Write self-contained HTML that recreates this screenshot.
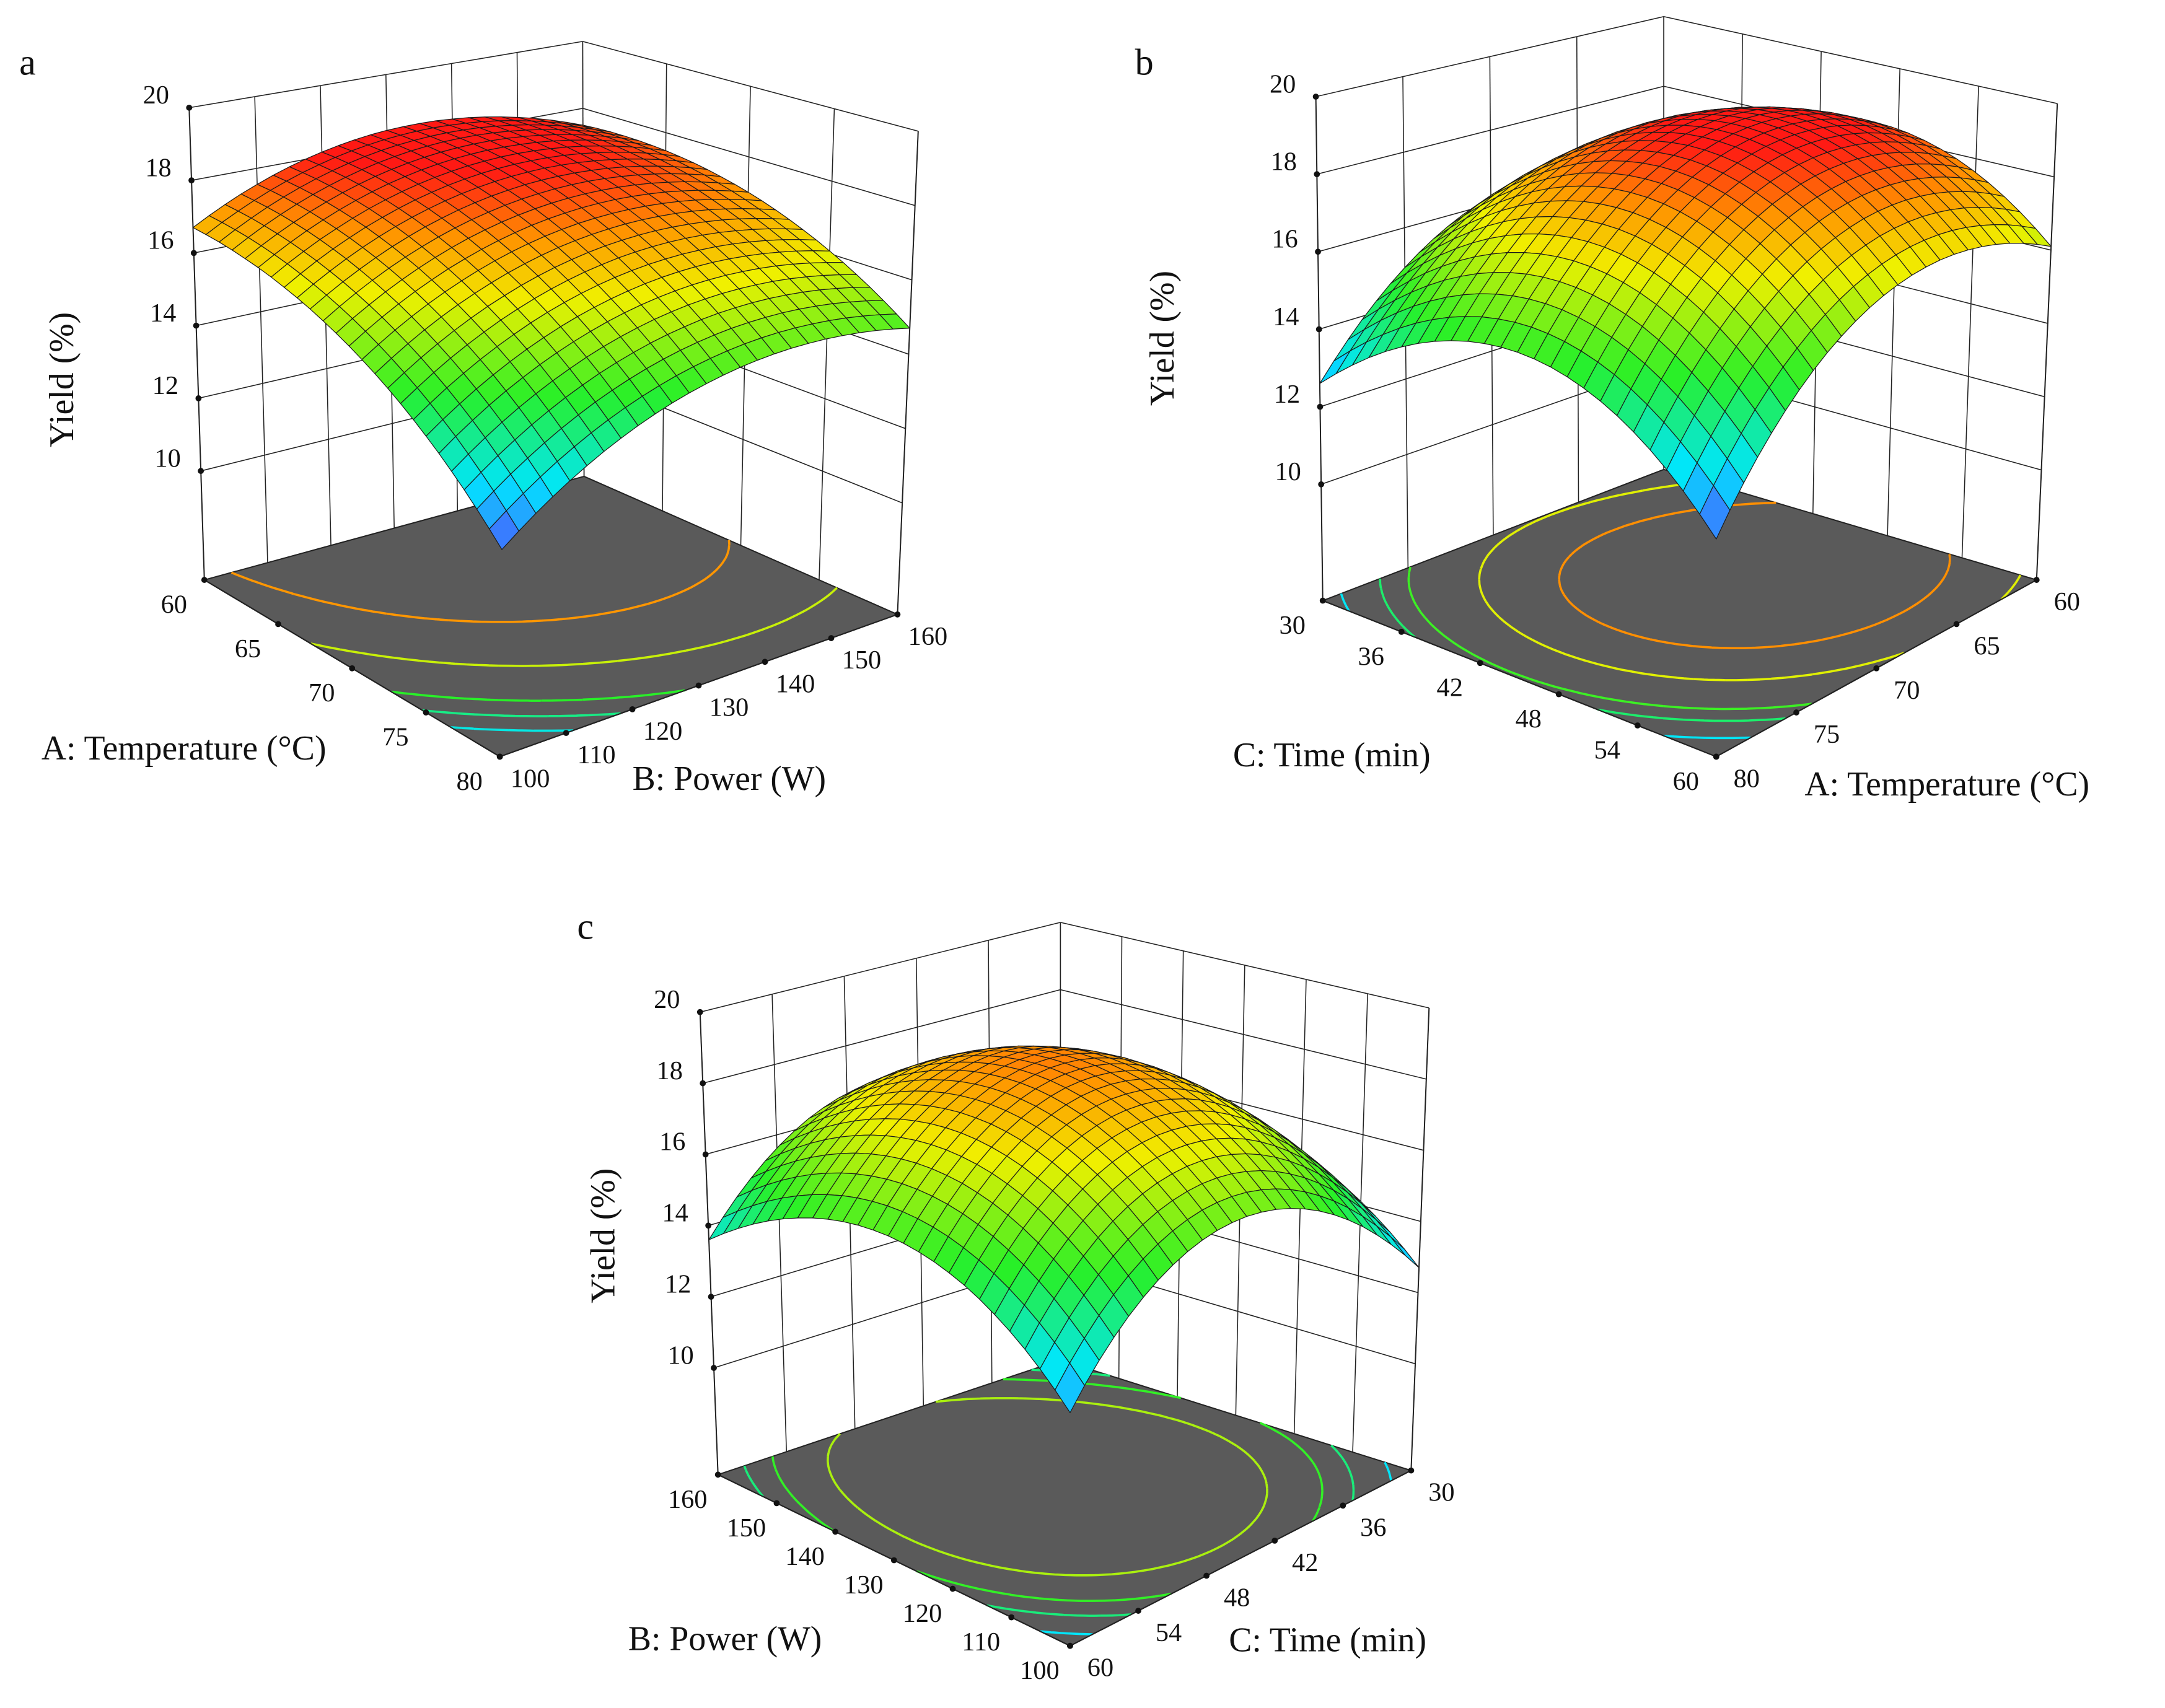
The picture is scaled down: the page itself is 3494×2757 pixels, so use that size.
<!DOCTYPE html>
<html><head><meta charset="utf-8"><style>
html,body{margin:0;padding:0;background:#fff}
svg{display:block}
text{font-family:"Liberation Serif",serif;fill:#111}
</style></head><body>
<svg id="fig" width="3494" height="2757" viewBox="0 0 1568 1237" preserveAspectRatio="none" xmlns="http://www.w3.org/2000/svg">
<rect width="1568" height="1237" fill="#fff"/>
<text x="14" y="54" font-size="27">a</text>
<text x="822" y="54" font-size="27">b</text>
<text x="418" y="680" font-size="27">c</text>
<g id="pa"></g>
<g id="pb"></g>
<g id="pc"></g>
<text transform="translate(53,275) rotate(-90)" text-anchor="middle" font-size="25">Yield (%)</text>
<text x="30" y="550" font-size="25">A: Temperature (°C)</text>
<text x="458" y="572" font-size="25">B: Power (W)</text>
<text transform="translate(850,245) rotate(-90)" text-anchor="middle" font-size="25">Yield (%)</text>
<text x="893" y="555" font-size="25">C: Time (min)</text>
<text x="1307" y="576" font-size="25">A: Temperature (°C)</text>
<text transform="translate(445,895) rotate(-90)" text-anchor="middle" font-size="25">Yield (%)</text>
<text x="455" y="1195" font-size="25">B: Power (W)</text>
<text x="890" y="1196" font-size="25">C: Time (min)</text>
</svg>
<script>
// model coefficients [b0, b1, b2, b11, b22, b12] in coded units
const coefA = [17.4, -1.9, 0.9, -0.9, -1.3, 0.5];
const coefB = [18.8, -1.75, 0.0, -2.2, -2.6, -0.35];
const coefC = [18.6, 0.45, 0.0, -2.3, -3.2, 0.05];
// colour ranges per panel [low, high]
const colorRangeA = [11.9, 18.4];
const colorRangeB = [11.9, 19.2];
const colorRangeC = [12.0, 20.0];
const zTicks = [10, 12, 14, 16, 18, 20];
const leftLabelsA = ["60","65","70","75","80"];
const rightLabelsA = ["100","110","120","130","140","150","160"];
const leftLabelsB = ["30","36","42","48","54","60"];
const rightLabelsB = ["80","75","70","65","60"];
const leftLabelsC = ["160","150","140","130","120","110","100"];
const rightLabelsC = ["60","54","48","42","36","30"];
const contourA = [13.2, 13.85, 14.5, 15.8, 17.1];
const contourB = [13.2, 14.3, 15.0, 16.5, 17.8];
const contourC = [13.4, 14.5, 15.3, 16.5];

const NS = "http://www.w3.org/2000/svg";
const stops = [[0,[80,80,255]],[0.17,[0,230,255]],[0.4,[40,240,40]],[0.65,[240,240,0]],[0.8,[255,150,0]],[0.95,[255,25,20]]];
function cmapF(f){
  if(f<=stops[0][0]) return stops[0][1];
  for(let i=1;i<stops.length;i++){ if(f<=stops[i][0]){ const a=stops[i-1],b=stops[i],r=(f-a[0])/(b[0]-a[0]); return a[1].map((v,k)=>Math.round(v+(b[1][k]-v)*r)); } }
  return stops[stops.length-1][1];
}
function rgb(c){return "rgb("+c.join(",")+")";}
function mk(parent,tag,attrs,name){const e=document.createElementNS(NS,tag);for(const k in attrs)e.setAttribute(k,attrs[k]);
  
  
  parent.appendChild(e);return e;}

function draw(P){
  const g=document.getElementById(P.id);
  const zmin=7,zmax=20;
  const cmap=z=>cmapF((z-P.cr[0])/(P.cr[1]-P.cr[0]));
  const bil=(C,s,t)=>[(1-s)*(1-t)*C.B[0]+s*(1-t)*C.L[0]+(1-s)*t*C.R[0]+s*t*C.F[0],(1-s)*(1-t)*C.B[1]+s*(1-t)*C.L[1]+(1-s)*t*C.R[1]+s*t*C.F[1]];
  const proj=(s,t,z)=>{const w=(z-zmin)/(zmax-zmin);const f=bil(P.bot,s,t),u=bil(P.top,s,t);return [f[0]+(u[0]-f[0])*w,f[1]+(u[1]-f[1])*w];};
  const Y=(s,t)=>{const x=P.map(s,t),c=P.coef;return c[0]+c[1]*x[0]+c[2]*x[1]+c[3]*x[0]*x[0]+c[4]*x[1]*x[1]+c[5]*x[0]*x[1];};
  const pl=(a,b,name,sw)=>mk(g,"line",{x1:a[0],y1:a[1],x2:b[0],y2:b[1],stroke:"#222","stroke-width":sw||0.9},name);
  for(let i=0;i<=P.nL;i++){const s=i/P.nL;pl(proj(s,0,zmin),proj(s,0,zmax),"left-wall-gridline",0.7);}
  for(let i=0;i<=P.nR;i++){const t=i/P.nR;pl(proj(0,t,zmin),proj(0,t,zmax),"right-wall-gridline",0.7);}
  zTicks.forEach(z=>{pl(proj(1,0,z),proj(0,0,z),"left-wall-z-gridline",0.7);pl(proj(0,0,z),proj(0,1,z),"right-wall-z-gridline",0.7);});
  const fl=[proj(0,0,zmin),proj(1,0,zmin),proj(1,1,zmin),proj(0,1,zmin)];
  mk(g,"polygon",{points:fl.map(p=>p.join(",")).join(" "),fill:"#5a5a5a",stroke:"#222","stroke-width":0.9},"floor");
  const N=60;
  P.levels.forEach(lv=>{
    let d="";
    const v=(i,j)=>Y(i/N,j/N)-lv;
    for(let i=0;i<N;i++)for(let j=0;j<N;j++){
      const c=[[i,j],[i+1,j],[i+1,j+1],[i,j+1]];const vals=c.map(p=>v(p[0],p[1]));const pts=[];
      for(let k=0;k<4;k++){const a=vals[k],b=vals[(k+1)%4];if((a<0)!==(b<0)){const f=a/(a-b);const p1=c[k],p2=c[(k+1)%4];pts.push([(p1[0]+(p2[0]-p1[0])*f)/N,(p1[1]+(p2[1]-p1[1])*f)/N]);}}
      for(let k=0;k+1<pts.length;k+=2){const a=proj(pts[k][0],pts[k][1],zmin),b=proj(pts[k+1][0],pts[k+1][1],zmin);d+="M"+a[0].toFixed(1)+","+a[1].toFixed(1)+"L"+b[0].toFixed(1)+","+b[1].toFixed(1);}
    }
    mk(g,"path",{d:d,stroke:rgb(cmap(lv)),"stroke-width":1.6,fill:"none"},"contour-line");
  });
  const M=24,quads=[];
  for(let i=0;i<M;i++)for(let j=0;j<M;j++){
    const s0=i/M,s1=(i+1)/M,t0=j/M,t1=(j+1)/M;
    const cs=[[s0,t0],[s1,t0],[s1,t1],[s0,t1]];
    const zs=cs.map(p=>Y(p[0],p[1]));
    const pts=cs.map((p,k)=>proj(p[0],p[1],zs[k]));
    const depth=bil(P.bot,(s0+s1)/2,(t0+t1)/2)[1];
    quads.push({pts,z:zs.reduce((a,b)=>a+b)/4,depth});
  }
  quads.sort((a,b)=>a.depth-b.depth);
  quads.forEach(q=>{mk(g,"polygon",{points:q.pts.map(p=>p[0].toFixed(1)+","+p[1].toFixed(1)).join(" "),fill:rgb(cmap(q.z)),stroke:"#1a1a1a","stroke-width":0.55,"stroke-linejoin":"round"},"surface-cell");});
  pl(proj(1,0,zmin),proj(1,0,zmax),"z-axis-line");
  pl(proj(0,1,zmin),proj(0,1,zmax),"right-vertical-edge");
  pl(proj(1,0,zmin),proj(1,1,zmin),"left-floor-axis");
  pl(proj(1,1,zmin),proj(0,1,zmin),"right-floor-axis");
  zTicks.forEach(z=>{const p=proj(1,0,z);mk(g,"circle",{cx:p[0],cy:p[1],r:2.2,fill:"#111"},"z-tick-dot");
    const t=mk(g,"text",{x:p[0]-24,y:p[1]-3,"text-anchor":"middle","font-size":19},"z-tick-label");t.textContent=z;});
  P.leftLabels.forEach((lab,i)=>{const t=i/(P.leftLabels.length-1);const p=proj(1,t,zmin);
    mk(g,"circle",{cx:p[0],cy:p[1],r:2.2,fill:"#111"},"left-axis-tick-dot");
    const e=mk(g,"text",{x:p[0]-22,y:p[1]+24,"text-anchor":"middle","font-size":19},"left-axis-tick-label");e.textContent=lab;});
  P.rightLabels.forEach((lab,i)=>{const s=1-i/(P.rightLabels.length-1);const p=proj(s,1,zmin);
    mk(g,"circle",{cx:p[0],cy:p[1],r:2.2,fill:"#111"},"right-axis-tick-dot");
    const e=mk(g,"text",{x:p[0]+22,y:p[1]+22,"text-anchor":"middle","font-size":19},"right-axis-tick-label");e.textContent=lab;});
}

draw({id:"pa",coef:coefA,cr:colorRangeA,levels:contourA,leftLabels:leftLabelsA,rightLabels:rightLabelsA,nL:6,nR:4,
  bot:{B:[423,345],L:[148,420],R:[650,445],F:[362,548]},top:{B:[422,30],L:[137,78],R:[665,95],F:[366,150]},
  map:(s,t)=>[2*t-1,1-2*s]});
draw({id:"pb",coef:coefB,cr:colorRangeB,levels:contourB,leftLabels:leftLabelsB,rightLabels:rightLabelsB,nL:4,nR:5,
  bot:{B:[1205,340],L:[958,435],R:[1475,420],F:[1243,548]},top:{B:[1205,12],L:[953,70],R:[1490,75],F:[1243,130]},
  map:(s,t)=>[2*s-1,2*t-1]});
draw({id:"pc",coef:coefC,cr:colorRangeC,levels:contourC,leftLabels:leftLabelsC,rightLabels:rightLabelsC,nL:5,nR:6,
  bot:{B:[768,985],L:[520,1068],R:[1022,1065],F:[775,1192]},top:{B:[768,668],L:[507,733],R:[1035,730],F:[775,800]},
  map:(s,t)=>[1-2*t,2*s-1]});
</script>
</body></html>
